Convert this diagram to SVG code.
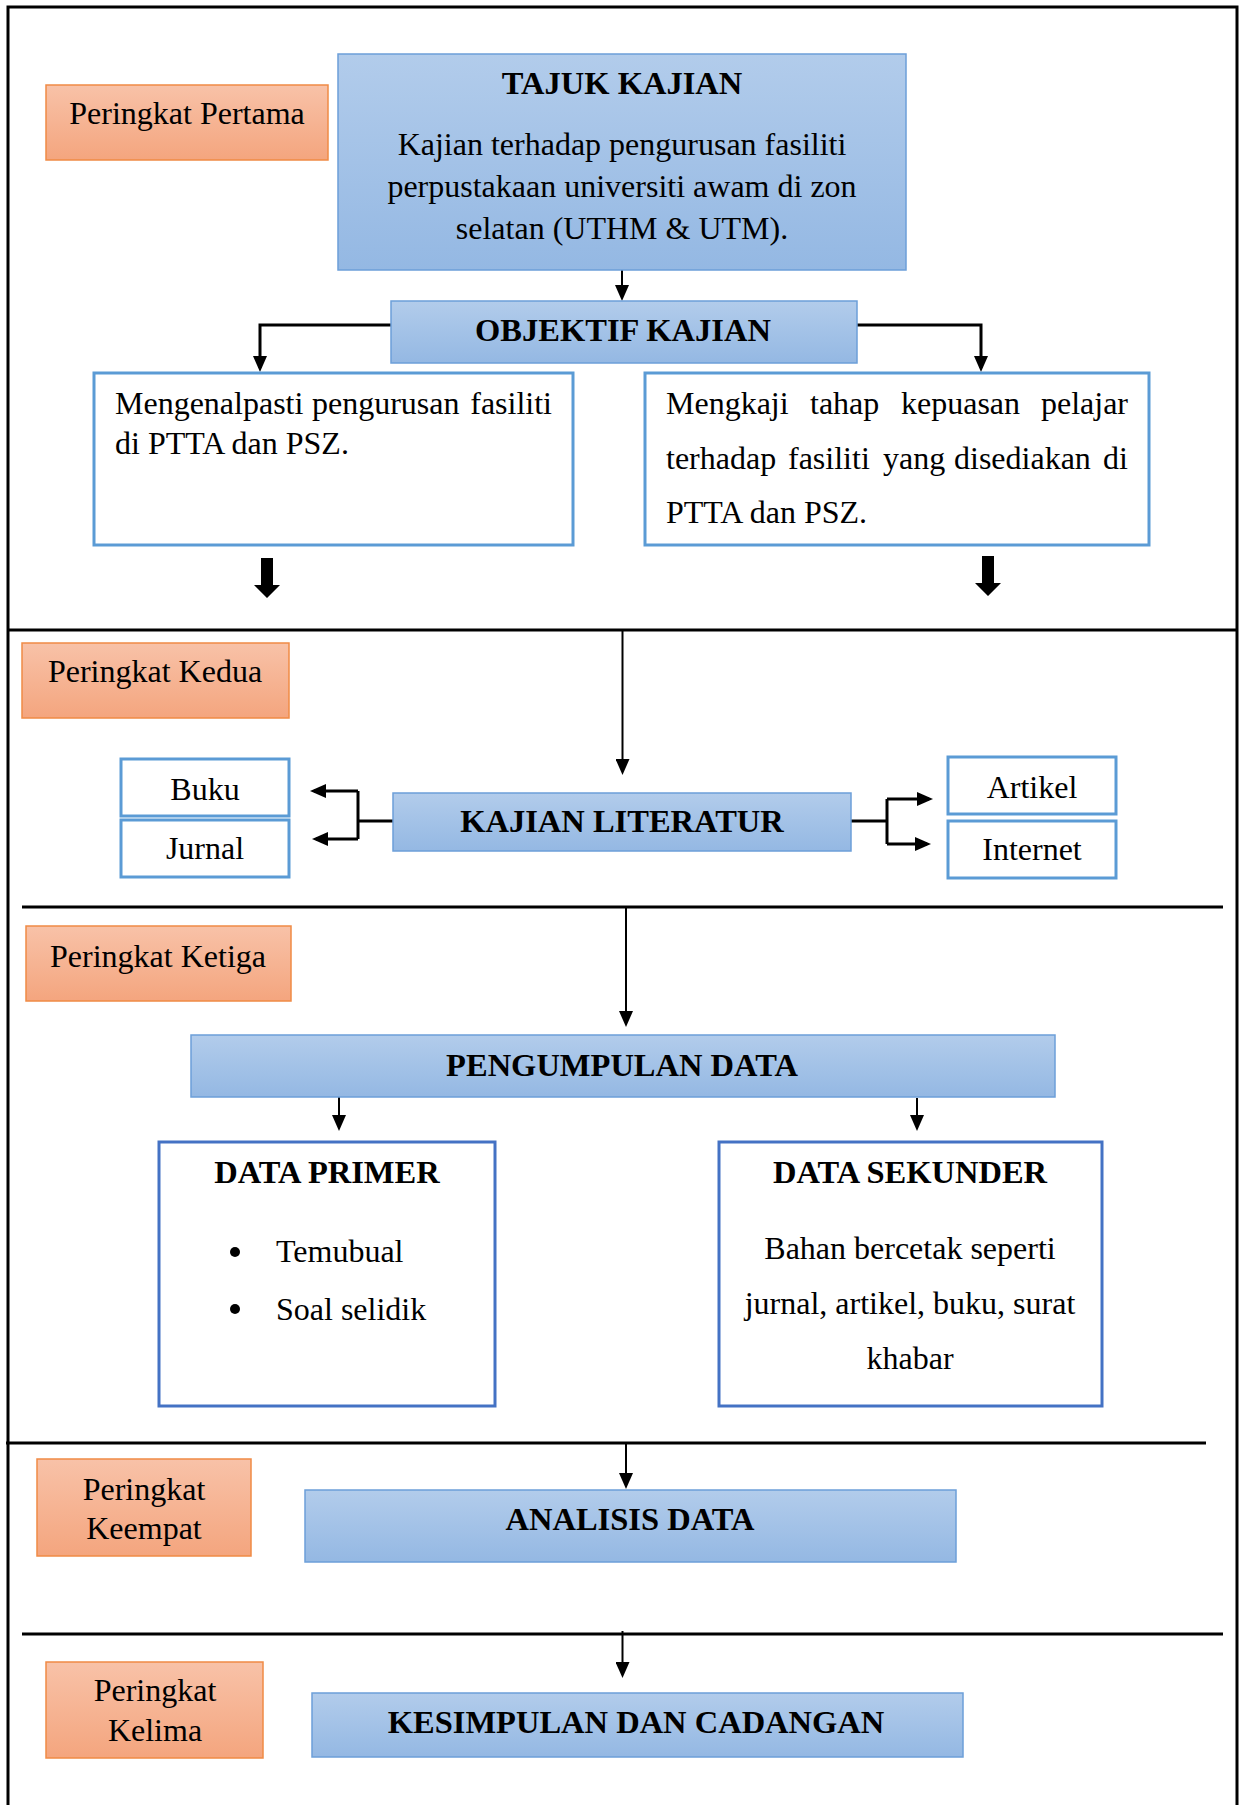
<svg xmlns="http://www.w3.org/2000/svg" width="1245" height="1805" viewBox="0 0 1245 1805">
<defs>
<linearGradient id="gBlue" x1="0" y1="0" x2="0" y2="1">
<stop offset="0" stop-color="#b2cceb"/>
<stop offset="1" stop-color="#94b8e3"/>
</linearGradient>
<linearGradient id="gOrange" x1="0" y1="0" x2="0" y2="1">
<stop offset="0" stop-color="#f8c2a8"/>
<stop offset="1" stop-color="#f4a57e"/>
</linearGradient>
<marker id="ah" markerUnits="userSpaceOnUse" viewBox="0 0 16 14" markerWidth="16" markerHeight="14" refX="12" refY="7" orient="auto">
<path d="M0,0 L16,7 L0,14 z" fill="#000"/>
</marker>
<style>
text{font-family:"Liberation Serif","Times New Roman",serif;font-size:32px;fill:#000}
.b{font-weight:bold;font-size:32.5px}
.c{text-anchor:middle}
.e{text-anchor:end}
.blue{fill:url(#gBlue);stroke:#6c9fd9;stroke-width:1.5}
.orange{fill:url(#gOrange);stroke:#f08b45;stroke-width:1.5}
.wbox{fill:#fff;stroke:#5b9bd5;stroke-width:3}
.dbox{fill:#fff;stroke:#4472c4;stroke-width:3}
.sep{stroke:#000;stroke-width:3;fill:none}
.ln{stroke:#000;stroke-width:2;fill:none}
.ln3{stroke:#000;stroke-width:3;fill:none}
</style>
</defs>
<rect x="0" y="0" width="1245" height="1805" fill="#fff"/>

<g id="frame">
<path class="sep" d="M8,1805 L8,7 L1237,7 L1237,1805"/>
<line class="sep" x1="8" y1="630" x2="1237" y2="630"/>
<line class="sep" x1="22" y1="907" x2="1223" y2="907"/>
<line class="sep" x1="6" y1="1443" x2="1206" y2="1443"/>
<line class="sep" x1="22" y1="1634" x2="1223" y2="1634"/>
</g>

<g id="connectors">
<line class="ln" x1="622" y1="270" x2="622" y2="297" marker-end="url(#ah)"/>
<polyline class="ln3" points="391,325 260,325 260,368" marker-end="url(#ah)"/>
<polyline class="ln3" points="857,325 981,325 981,368" marker-end="url(#ah)"/>
<polygon points="261,558 273,558 273,585 280,585 267,598 254,585 261,585" fill="#000"/>
<polygon points="982,556 994,556 994,583 1001,583 988,596 975,583 982,583" fill="#000"/>
<line class="ln" x1="622.5" y1="630" x2="622.5" y2="771" marker-end="url(#ah)"/>
<line class="ln3" x1="393" y1="821" x2="358" y2="821"/>
<polyline class="ln3" points="358,791 358,839"/>
<line class="ln3" x1="358" y1="791" x2="314" y2="791" marker-end="url(#ah)"/>
<line class="ln3" x1="358" y1="839" x2="316" y2="839" marker-end="url(#ah)"/>
<line class="ln3" x1="851" y1="821" x2="887" y2="821"/>
<polyline class="ln3" points="887,799 887,844"/>
<line class="ln3" x1="887" y1="799" x2="929" y2="799" marker-end="url(#ah)"/>
<line class="ln3" x1="887" y1="844" x2="927" y2="844" marker-end="url(#ah)"/>
<line class="ln" x1="626" y1="907" x2="626" y2="1023" marker-end="url(#ah)"/>
<line class="ln" x1="339" y1="1097" x2="339" y2="1127" marker-end="url(#ah)"/>
<line class="ln" x1="917" y1="1098" x2="917" y2="1127" marker-end="url(#ah)"/>
<line class="ln" x1="626" y1="1443" x2="626" y2="1485" marker-end="url(#ah)"/>
<line class="ln" x1="622.5" y1="1631" x2="622.5" y2="1674" marker-end="url(#ah)"/>
</g>

<g id="peringkat-pertama">
<rect class="orange" x="46" y="85" width="282" height="75"/>
<text class="c" x="187" y="124">Peringkat Pertama</text>
</g>

<g id="tajuk-kajian">
<rect class="blue" x="338" y="54" width="568" height="216"/>
<text class="b c" x="622" y="94">TAJUK KAJIAN</text>
<text class="c" x="622" y="155">Kajian terhadap pengurusan fasiliti</text>
<text class="c" x="622" y="197">perpustakaan universiti awam di zon</text>
<text class="c" x="622" y="239">selatan (UTHM &amp; UTM).</text>
</g>

<g id="objektif-kajian">
<rect class="blue" x="391" y="301" width="466" height="62"/>
<text class="b c" x="623" y="341">OBJEKTIF KAJIAN</text>
</g>

<g id="objektif-1">
<rect class="wbox" x="94" y="373" width="479" height="172"/>
<text x="115" y="414">Mengenalpasti</text>
<text x="312" y="414">pengurusan</text>
<text class="e" x="552" y="414">fasiliti</text>
<text x="115" y="454">di PTTA dan PSZ.</text>
</g>

<g id="objektif-2">
<rect class="wbox" x="645" y="373" width="504" height="172"/>
<text x="666" y="414">Mengkaji</text>
<text x="810" y="414">tahap</text>
<text x="901" y="414">kepuasan</text>
<text class="e" x="1128" y="414">pelajar</text>
<text x="666" y="469">terhadap</text>
<text x="788" y="469">fasiliti</text>
<text x="883" y="469">yang</text>
<text x="954" y="469">disediakan</text>
<text class="e" x="1128" y="469">di</text>
<text x="666" y="523">PTTA dan PSZ.</text>
</g>

<g id="peringkat-kedua">
<rect class="orange" x="22" y="643" width="267" height="75"/>
<text class="c" x="155" y="682">Peringkat Kedua</text>
</g>

<g id="buku">
<rect class="wbox" x="121" y="759" width="168" height="57"/>
<text class="c" x="205" y="800">Buku</text>
</g>
<g id="jurnal">
<rect class="wbox" x="121" y="820" width="168" height="57"/>
<text class="c" x="205" y="859">Jurnal</text>
</g>

<g id="kajian-literatur">
<rect class="blue" x="393" y="793" width="458" height="58"/>
<text class="b c" x="622" y="832">KAJIAN LITERATUR</text>
</g>

<g id="artikel">
<rect class="wbox" x="948" y="757" width="168" height="57"/>
<text class="c" x="1032" y="798">Artikel</text>
</g>
<g id="internet">
<rect class="wbox" x="948" y="821" width="168" height="57"/>
<text class="c" x="1032" y="860">Internet</text>
</g>

<g id="peringkat-ketiga">
<rect class="orange" x="26" y="926" width="265" height="75"/>
<text class="c" x="158" y="967">Peringkat Ketiga</text>
</g>

<g id="pengumpulan-data">
<rect class="blue" x="191" y="1035" width="864" height="62"/>
<text class="b c" x="622" y="1076">PENGUMPULAN DATA</text>
</g>

<g id="data-primer">
<rect class="dbox" x="159" y="1142" width="336" height="264"/>
<text class="b c" x="327" y="1183">DATA PRIMER</text>
<circle cx="235" cy="1252" r="5" fill="#000"/>
<text x="276" y="1262">Temubual</text>
<circle cx="235" cy="1309" r="5" fill="#000"/>
<text x="276" y="1320">Soal selidik</text>
</g>

<g id="data-sekunder">
<rect class="dbox" x="719" y="1142" width="383" height="264"/>
<text class="b c" x="910" y="1183">DATA SEKUNDER</text>
<text class="c" x="910" y="1259">Bahan bercetak seperti</text>
<text class="c" x="910" y="1314">jurnal, artikel, buku, surat</text>
<text class="c" x="910" y="1369">khabar</text>
</g>

<g id="peringkat-keempat">
<rect class="orange" x="37" y="1459" width="214" height="97"/>
<text class="c" x="144" y="1500">Peringkat</text>
<text class="c" x="144" y="1539">Keempat</text>
</g>

<g id="analisis-data">
<rect class="blue" x="305" y="1490" width="651" height="72"/>
<text class="b c" x="630" y="1530">ANALISIS DATA</text>
</g>

<g id="peringkat-kelima">
<rect class="orange" x="46" y="1662" width="217" height="96"/>
<text class="c" x="155" y="1701">Peringkat</text>
<text class="c" x="155" y="1741">Kelima</text>
</g>

<g id="kesimpulan">
<rect class="blue" x="312" y="1693" width="651" height="64"/>
<text class="b c" x="636" y="1733">KESIMPULAN DAN CADANGAN</text>
</g>
</svg>
